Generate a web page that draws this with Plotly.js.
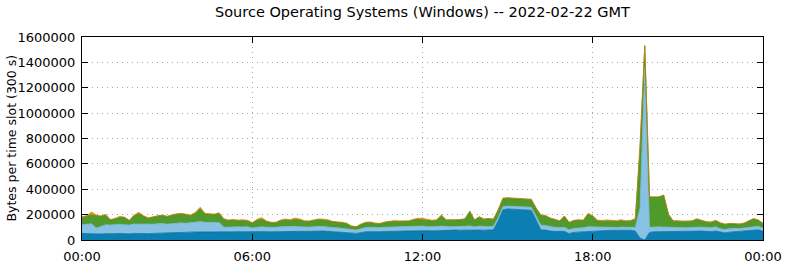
<!DOCTYPE html>
<html>
<head>
<meta charset="utf-8">
<script src="https://cdn.plot.ly/plotly-3.0.1.min.js"></script>
<style>html,body{margin:0;padding:0;background:#fff}#chart{width:785px;height:264px}</style>
</head>
<body>
<div id="chart"></div>
<script>
// 10-minute slots from 2022-02-22 00:00 to 2022-02-23 00:00 (145 points), bytes per slot
const dayStart = "2022-02-22";
const slotMinutes = 10;

const darkBlue = [52000,50000,48000,50000,47000,50000,48000,50000,52000,50000,48000,52000,
50000,52000,50000,52000,54000,55000,55000,57000,58000,60000,60000,62000,
63000,62000,63000,64000,63000,65000,63000,64000,65000,66000,65000,66000,
64000,66000,68000,66000,65000,66000,68000,70000,70000,72000,70000,68000,
68000,70000,72000,70000,68000,66000,65000,63000,60000,55000,52000,58000,
65000,66000,64000,65000,67000,68000,68000,70000,69000,70000,72000,75000,
76000,74000,72000,74000,76000,75000,76000,78000,77000,78000,80000,76000,
78000,77000,78000,80000,150000,238000,245000,243000,240000,238000,236000,234000,
160000,80000,78000,70000,68000,66000,68000,50000,60000,62000,64000,68000,
72000,75000,76000,78000,77000,76000,78000,76000,77000,70000,15000,0,
60000,65000,66000,65000,66000,66000,68000,66000,67000,70000,72000,70000,
68000,66000,70000,60000,56000,62000,66000,65000,68000,72000,78000,80000,70000];

const lightBlue = [68000,75000,80000,45000,63000,70000,70000,72000,73000,70000,70000,74000,
75000,76000,72000,73000,74000,75000,70000,73000,75000,75000,72000,73000,
77000,83000,77000,74000,72000,73000,37000,38000,40000,38000,38000,39000,
31000,36000,37000,34000,33000,34000,36000,36000,35000,36000,34000,32000,
34000,34000,36000,36000,32000,32000,31000,29000,28000,27000,26000,30000,
33000,34000,33000,33000,33000,34000,34000,34000,34000,35000,36000,35000,
34000,31000,31000,32000,34000,30000,28000,28000,28000,30000,32000,28000,
32000,29000,27000,28000,25000,24000,23000,23000,24000,24000,24000,24000,
30000,38000,37000,35000,32000,32000,32000,30000,32000,33000,32000,37000,
33000,27000,24000,22000,23000,22000,24000,24000,23000,30000,235000,1360000,
40000,38000,38000,37000,34000,32000,30000,29000,30000,30000,32000,32000,
32000,32000,34000,28000,26000,28000,26000,25000,27000,28000,28000,28000,25000];

const green = [58000,60000,70000,95000,75000,75000,40000,43000,55000,55000,34000,64000,
80000,57000,48000,55000,62000,62000,58000,65000,69000,70000,66000,57000,
70000,100000,65000,62000,63000,70000,60000,50000,50000,46000,49000,45000,
37000,53000,57000,45000,37000,36000,46000,52000,47000,52000,54000,46000,
43000,48000,52000,49000,50000,42000,44000,43000,40000,26000,25000,34000,
37000,38000,33000,30000,38000,43000,45000,41000,45000,41000,47000,52000,
48000,47000,47000,49000,80000,50000,51000,51000,53000,57000,113000,51000,
70000,56000,63000,54000,60000,63000,62000,60000,58000,61000,60000,60000,
60000,77000,75000,65000,60000,50000,85000,55000,58000,60000,56000,95000,
80000,48000,48000,50000,48000,48000,48000,45000,48000,60000,450000,170000,
238000,233000,234000,250000,100000,50000,50000,48000,48000,48000,58000,48000,
40000,40000,46000,44000,40000,38000,34000,34000,35000,50000,59000,47000,35000];

const orange = [4000,7000,22000,8000,5000,7000,4000,5000,6000,5000,4000,6000,
13000,7000,5000,4000,4000,5000,5000,5000,5000,5000,5000,5000,
8000,13000,5000,5000,6000,7000,8000,6000,7000,7000,8000,5000,
5000,7000,14000,5000,5000,4000,8000,7000,8000,12000,8000,6000,
5000,6000,6000,9000,10000,6000,5000,5000,4000,2000,2000,4000,
5000,4000,3000,3000,4000,5000,5000,5000,5000,5000,7000,10000,
12000,8000,6000,5000,7000,5000,3000,3000,4000,3000,3000,3000,
4000,4000,2000,3000,3000,5000,4000,4000,5000,3000,4000,4000,
4000,3000,4000,4000,3000,4000,5000,5000,5000,5000,5000,10000,
7000,6000,6000,8000,7000,6000,10000,7000,7000,8000,60000,2000,
2000,2000,2000,3000,5000,4000,4000,3000,3000,4000,6000,4000,
5000,4000,5000,4000,4000,3000,3000,3000,4000,5000,5000,3000,2000];

const yTickValues = [0,200000,400000,600000,800000,1000000,1200000,1400000,1600000];
const xTickLabels = ["00:00","06:00","12:00","18:00","00:00"];

function pad(n){return (n<10?"0":"")+n;}
const times = darkBlue.map((_, i) => {
  const m = i * slotMinutes;
  if (m >= 1440) return "2022-02-23 00:00";
  return dayStart + " " + pad(Math.floor(m/60)) + ":" + pad(m%60);
});
const xTickValues = ["2022-02-22 00:00","2022-02-22 06:00","2022-02-22 12:00","2022-02-22 18:00","2022-02-23 00:00"];

const series = [
  {name:"Windows (dark)", y:darkBlue, fill:"#0b7fb1", line:"#0a6f9c"},
  {name:"Windows (light)", y:lightBlue, fill:"#87c1e3", line:"#79b2d4"},
  {name:"Windows (green)", y:green, fill:"#4f9a2b", line:"#3e8420"},
  {name:"Windows (orange)", y:orange, fill:"#e89b10", line:"#c9850a"}
];

const traces = series.map(s => ({
  type:"scatter", mode:"lines", x:times, y:s.y, name:s.name,
  stackgroup:"os", fillcolor:s.fill,
  line:{color:s.line, width:0.8, shape:"linear"},
  hoverinfo:"x+y+name"
}));

const font = {family:"DejaVu Sans, sans-serif", size:13, color:"#000"};
const gridStyle = {showgrid:true, gridcolor:"#a8a8a8", griddash:"1px,4px", gridwidth:1};
const layout = {
  width:785, height:264,
  margin:{l:82, r:22, t:37, b:24, pad:0},
  paper_bgcolor:"#fff", plot_bgcolor:"#fff",
  showlegend:false,
  font:font,
  title:{text:"Source Operating Systems (Windows) -- 2022-02-22 GMT",
         font:{family:"DejaVu Sans, sans-serif", size:14.5, color:"#000"},
         x:0.5, xref:"paper", y:0.954, yref:"container", yanchor:"middle"},
  xaxis:Object.assign({type:"date", range:["2022-02-22 00:00","2022-02-23 00:00"],
         tickmode:"array", tickvals:xTickValues, ticktext:xTickLabels,
         showline:true, linecolor:"#000", linewidth:1, mirror:"ticks",
         ticks:"inside", ticklen:6, tickcolor:"#000", tickwidth:1,
         ticklabelstandoff:4,
         zeroline:false, tickfont:font, fixedrange:true}, gridStyle),
  yaxis:Object.assign({range:[0,1600000], tickmode:"array", tickvals:yTickValues,
         ticktext:yTickValues.map(String),
         showline:true, linecolor:"#000", linewidth:1, mirror:"ticks",
         ticks:"inside", ticklen:6, tickcolor:"#000", tickwidth:1,
         ticklabelstandoff:3,
         zeroline:false, tickfont:font, fixedrange:true}, gridStyle),
  annotations:[{text:"Bytes per time slot (300 s)", textangle:-90,
         xref:"paper", yref:"paper", x:(11-82)/681, y:0.5,
         xanchor:"center", yanchor:"middle", showarrow:false,
         font:{family:"DejaVu Sans, sans-serif", size:12.5, color:"#000"}}]
};

Plotly.newPlot("chart", traces, layout, {staticPlot:true, displayModeBar:false});
</script>
</body>
</html>
